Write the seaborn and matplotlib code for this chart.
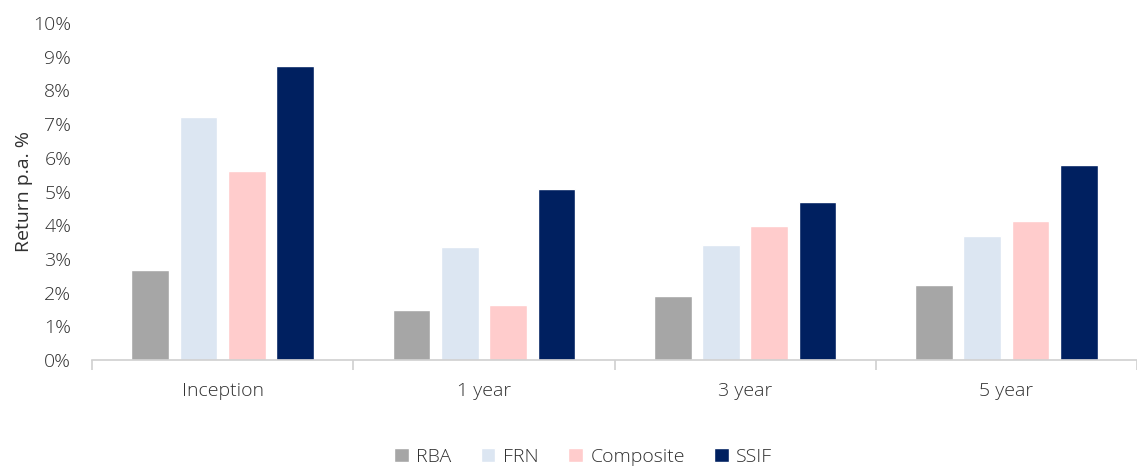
import numpy as np
import pandas as pd
import matplotlib
matplotlib.use('Agg')
import matplotlib.pyplot as plt
import seaborn as sns
from matplotlib.ticker import PercentFormatter, FixedLocator

# dados
periods = ['Inception', '1 year', '3 year', '5 year']
series = ['RBA', 'FRN', 'Composite', 'SSIF']
rba = [2.67, 1.48, 1.90, 2.23]
frn = [7.21, 3.35, 3.41, 3.68]
composite = [5.61, 1.63, 3.98, 4.12]
ssif = [8.72, 5.07, 4.69, 5.79]
colors = ['#A6A6A6', '#DCE6F2', '#FFCCCC', '#002060']

df = pd.DataFrame({
    'period': periods * 4,
    'series': [s for s in series for _ in periods],
    'value': rba + frn + composite + ssif,
})

sns.set_style('white')
plt.rcParams['font.family'] = ['Open Sans', 'DejaVu Sans']
plt.rcParams['font.weight'] = 'light'
txt = '#303030'
fs = 14

fig = plt.figure(figsize=(11.37, 4.70), dpi=100)
ax = fig.add_axes([0.081, 0.234, 0.919, 0.717])
sns.barplot(data=df, x='period', y='value', hue='series', order=periods,
            hue_order=series, palette=colors, width=0.74, gap=0.22,
            saturation=1, ax=ax, legend=True)

ax.set_ylim(0, 10)
ax.set_xlim(-0.5, 3.5)
ax.set_yticks(np.arange(0, 11, 1))
ax.yaxis.set_major_formatter(PercentFormatter(decimals=0))
ax.set_ylabel('Return p.a. %', fontsize=fs, color=txt, labelpad=0)
ax.set_xlabel('')
ax.tick_params(axis='y', length=0, labelsize=fs, labelcolor=txt, pad=15)
ax.tick_params(axis='x', length=0, labelsize=fs, labelcolor=txt, pad=16)
ax.xaxis.set_minor_locator(FixedLocator([-0.5, 0.5, 1.5, 2.5, 3.4995]))
ax.tick_params(axis='x', which='minor', bottom=True, length=7,
               color='#D0D0D0', width=1.2)

for s in ['top', 'right', 'left']:
    ax.spines[s].set_visible(False)
ax.spines['bottom'].set_color('#D0D0D0')
ax.spines['bottom'].set_linewidth(1.2)

handles, labels = ax.get_legend_handles_labels()
ax.get_legend().remove()
fig.legend(handles, labels, loc='center', bbox_to_anchor=(0.513, 0.028), ncol=4,
           frameon=False, fontsize=fs, labelcolor=txt, handlelength=0.75,
           handleheight=0.75, handletextpad=0.4, columnspacing=1.5)

fig.savefig('out.png', dpi=100)
